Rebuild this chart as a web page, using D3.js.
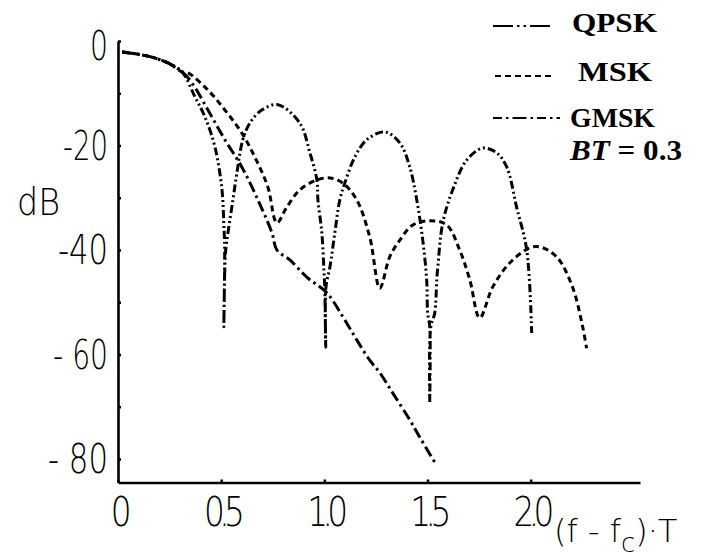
<!DOCTYPE html>
<html><head><meta charset="utf-8">
<script src="https://cdn.jsdelivr.net/npm/d3@7"></script>
<style>body{margin:0;background:#fff} svg{display:block}</style>
</head><body>
<svg id="c" width="711" height="559"></svg>
<script>
// ---- data ----
const xTicks = [0, 0.5, 1.0, 1.5, 2.0];
const xTickLabels = ["0", "0.5", "1.0", "1.5", "2.0"];
const yTicks = [0, -20, -40, -60, -80];
const yTickLabels = ["0", "-20", "-40", "- 60", "- 80"];
const yMinorTicks = [-10, -30, -50, -70];
const seriesNames = ["QPSK", "MSK", "GMSK"];

const qpskF  = [0.02, 0.145, 0.242, 0.31, 0.373, 0.421, 0.47, 0.504, 0.513, 0.517, 0.513, 0.521, 0.533, 0.557, 0.576, 0.605, 0.639, 0.697, 0.775,
                0.881, 0.93, 0.964, 0.969, 0.988, 0.998, 1.002, 1.007, 1.008, 1.027, 1.051, 1.075, 1.099, 1.148, 1.206, 1.293,
                1.366, 1.414, 1.448, 1.477, 1.496, 1.501, 1.511, 1.511, 1.516, 1.535, 1.545, 1.55, 1.574, 1.622, 1.69, 1.768,
                1.835, 1.884, 1.932, 1.981, 2.005];
const qpskDb = [-2.1, -2.9, -4.2, -5.9, -10.7, -14.5, -20.3, -28.5, -35.2, -40.0, -54.7, -40.5, -36.7, -30.4, -25.3, -18.9, -15.7, -13.2, -12.2,
                -15.7, -21.4, -26.6, -30.4, -36.7, -43.8, -47.1, -58.6, -47.1, -43.3, -36.7, -30.4, -27.2, -22.2, -18.9, -17.4,
                -19.5, -24.1, -30.4, -38.1, -45.7, -52.1, -54.7, -69.3, -54.7, -52.1, -45.7, -43.3, -34.8, -28.5, -22.8, -20.5,
                -21.4, -24.1, -31.8, -40.0, -55.9];

const mskF  = [0.02, 0.145, 0.242, 0.31, 0.339, 0.436, 0.518, 0.6, 0.663, 0.726, 0.77, 0.818, 0.881, 0.964, 1.027, 1.09, 1.157, 1.22, 1.269,
               1.317, 1.366, 1.429, 1.511, 1.593, 1.656, 1.705, 1.753, 1.816, 1.898, 1.995, 2.044, 2.126, 2.203, 2.252, 2.271];
const mskDb = [-2.1, -2.9, -4.2, -5.9, -6.1, -9.4, -13.2, -17.6, -22.2, -27.9, -34.8, -31.8, -28.5, -26.6, -26.2, -27.2, -30.4, -37.5, -47.3,
               -41.3, -38.1, -35.2, -34.4, -35.2, -40.0, -45.7, -53.0, -47.1, -42.5, -39.6, -39.4, -41.3, -47.1, -54.7, -58.8];

const gmskF  = [0.02, 0.145, 0.242, 0.31, 0.358, 0.436, 0.518, 0.6, 0.678, 0.746, 0.77, 0.833, 0.915, 1.012, 1.09, 1.157, 1.22, 1.269, 1.332, 1.414, 1.462, 1.535];
const gmskDb = [-2.1, -2.9, -4.2, -5.9, -8.0, -13.2, -18.9, -24.1, -30.4, -36.7, -40.0, -41.9, -45.2, -48.2, -52.8, -57.2, -61.1, -63.5, -67.4, -72.5, -75.8, -80.6];

// ---- layout ----
const yLabelWidths = [18, 45, 50, 55, 60];

// ---- drawing ----
const svg = d3.select("#c");
const W = 711, H = 559;
svg.append("rect").attr("width", W).attr("height", H).attr("fill", "#fff");

const x = d3.scaleLinear().domain([0, 2.53]).range([118, 640]);
const y = d3.scaleLinear().domain([0, -84.5]).range([41, 482.5]);

const sans = "'DejaVu Sans','Liberation Sans',sans-serif";
const serif = "'Liberation Serif','DejaVu Serif',serif";

// axes
const gx = svg.append("g").attr("transform", `translate(0,${y(-84.5)})`)
  .call(d3.axisBottom(x).tickValues(xTicks).tickFormat((d, i) => xTickLabels[i])
        .tickSize(-3).tickSizeOuter(0).tickPadding(14));
gx.attr("font-family", sans).attr("font-size", 41).attr("font-weight", 200);
gx.selectAll(".tick text")
  .attr("letter-spacing", "-7px")
  .attr("transform", "scale(0.8,1)");
gx.select(".domain").attr("stroke-width", 2.6);
gx.selectAll(".tick line").attr("stroke-width", 2.5);

const gy = svg.append("g").attr("transform", `translate(${x(0)},0)`)
  .call(d3.axisLeft(y).tickValues(yTicks).tickFormat((d, i) => yTickLabels[i])
        .tickSize(-3).tickSizeOuter(0).tickPadding(10));
gy.attr("font-family", sans).attr("font-size", 41).attr("font-weight", 200);
gy.selectAll(".tick text").each(function(d, i) {
  d3.select(this).attr("textLength", yLabelWidths[i]).attr("lengthAdjust", "spacingAndGlyphs")
    .attr("dy", i === 0 ? "0.45em" : "0.34em");
});
gy.select(".domain").attr("stroke-width", 2.6);
gy.selectAll(".tick line").attr("stroke-width", 2.5);

const gyMinor = svg.append("g").attr("transform", `translate(${x(0)},0)`)
  .call(d3.axisLeft(y).tickValues(yMinorTicks).tickFormat("").tickSize(-3).tickSizeOuter(0));
gyMinor.select(".domain").remove();
gyMinor.selectAll(".tick line").attr("stroke-width", 2.5);

// axis titles
svg.append("text").attr("x", 17).attr("y", 215).attr("font-family", sans)
  .attr("font-size", 37).attr("font-weight", 200)
  .attr("textLength", 43).attr("lengthAdjust", "spacingAndGlyphs").text("dB");
const xt = svg.append("text").attr("x", 554).attr("y", 542).attr("font-family", sans)
  .attr("font-size", 32).attr("font-weight", 200);
xt.append("tspan").text("(f - f");
xt.append("tspan").attr("dy", 10).attr("font-size", 26).text("c");
xt.append("tspan").attr("dy", -10).text(")·T");

// series
const series = [
  {name: seriesNames[0], f: qpskF, db: qpskDb, dash: "8,3,2,3,2,3"},
  {name: seriesNames[1], f: mskF, db: mskDb, dash: "6,4"},
  {name: seriesNames[2], f: gmskF, db: gmskDb, dash: "11,4,2.5,4"}
];
const line = d3.line().x(d => x(d[0])).y(d => y(d[1])).curve(d3.curveCatmullRom.alpha(0.5));
series.forEach(s => {
  const pts = s.f.map((v, i) => [v, s.db[i]]);
  svg.append("path").datum(pts).attr("d", line).attr("fill", "none")
    .attr("stroke", "#000").attr("stroke-width", 3).attr("stroke-dasharray", s.dash);
});

// legend
const legend = [
  {y: 26, x0: 493, x1: 550, dash: "20,4,2.5,4,2.5,4", tx: 572, ty: 32, tl: 85},
  {y: 76, x0: 495, x1: 553, dash: "6,4", tx: 578, ty: 81, tl: 74},
  {y: 118, x0: 493, x1: 560, dash: "9,4,2.5,4,14,4,2.5,4", tx: 570, ty: 127, tl: 85}
];
legend.forEach((l, i) => {
  svg.append("line").attr("x1", l.x0).attr("x2", l.x1).attr("y1", l.y).attr("y2", l.y)
    .attr("stroke", "#000").attr("stroke-width", 2.2).attr("stroke-dasharray", l.dash);
  svg.append("text").attr("x", l.tx).attr("y", l.ty).attr("font-family", serif)
    .attr("font-size", 27).attr("font-weight", "bold")
    .attr("textLength", l.tl).attr("lengthAdjust", "spacingAndGlyphs").text(seriesNames[i]);
});
const bt = svg.append("text").attr("x", 570).attr("y", 160).attr("font-family", serif)
  .attr("font-size", 29).attr("font-weight", "bold")
  .attr("textLength", 112).attr("lengthAdjust", "spacingAndGlyphs");
bt.append("tspan").attr("font-style", "italic").text("BT");
bt.append("tspan").text(" = 0.3");
</script>
</body></html>
